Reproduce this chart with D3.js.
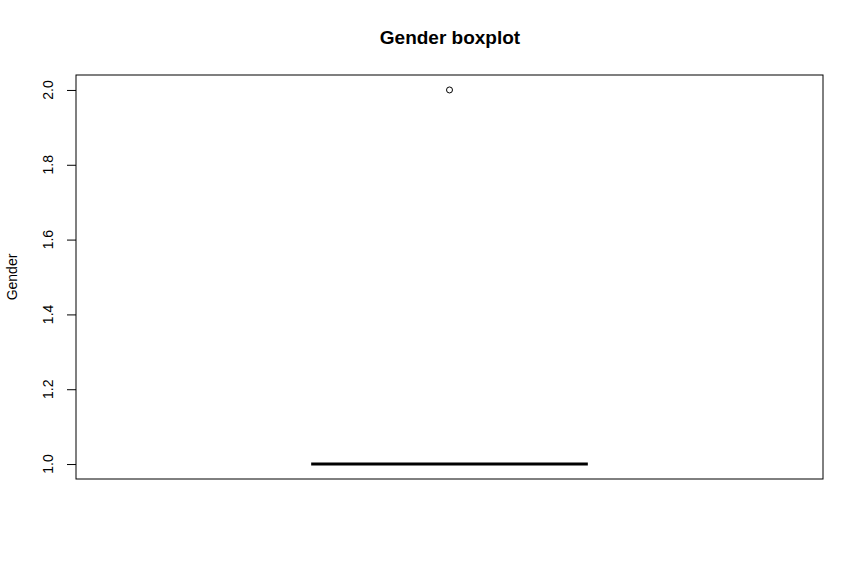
<!DOCTYPE html>
<html><head><meta charset="utf-8">
<script src="https://cdn.jsdelivr.net/npm/d3@7"></script>
<style>body{margin:0;background:#fff}svg{display:block}text{font-family:"Liberation Sans",Arial,sans-serif}</style>
</head><body>
<svg id="c" width="853" height="562"></svg>
<script>
const categories = ["Gender"];
const lowerWhisker = [1.0];
const q1 = [1.0];
const median = [1.0];
const q3 = [1.0];
const upperWhisker = [1.0];
const outliers = [[2.0]];
const yTicks = [1.0, 1.2, 1.4, 1.6, 1.8, 2.0];

const svg = d3.select("#c");
const L = 76, R = 823, T = 75, B = 479;
const x = d3.scaleLinear().domain([0.46, 1.54]).range([L, R]);
const y = d3.scaleLinear().domain([0.96, 2.04]).range([B, T]);

svg.append("text").attr("x", 450).attr("y", 44).attr("text-anchor", "middle")
  .attr("font-size", 19).attr("font-weight", "bold").text("Gender boxplot");

svg.append("rect").attr("x", L).attr("y", T).attr("width", R - L).attr("height", B - T)
  .attr("fill", "none").attr("stroke", "#000").attr("stroke-width", 1);

const ax = svg.append("g").attr("transform", `translate(${L},0)`)
  .call(d3.axisLeft(y).tickValues(yTicks).tickFormat(d3.format(".1f")).tickSize(9).tickPadding(0));
ax.select(".domain").remove();
ax.selectAll(".tick line").attr("stroke", "#000");
ax.selectAll(".tick text").remove();
yTicks.forEach(v => {
  svg.append("text").attr("transform", `translate(53,${y(v)}) rotate(-90)`)
    .attr("text-anchor", "middle").attr("font-size", 14).attr("fill", "#000").text(d3.format(".1f")(v));
});

svg.append("text").attr("transform", `translate(17,${(T + B) / 2}) rotate(-90)`)
  .attr("text-anchor", "middle").attr("font-size", 14).text("Gender");

const bw = 0.4;
categories.forEach((c, i) => {
  const cx = i + 1;
  const g = svg.append("g");
  g.append("rect").attr("x", x(cx - bw / 2)).attr("y", y(q3[i]))
    .attr("width", x(cx + bw / 2) - x(cx - bw / 2)).attr("height", y(q1[i]) - y(q3[i]))
    .attr("fill", "none").attr("stroke", "#000");
  g.append("line").attr("x1", x(cx)).attr("x2", x(cx)).attr("y1", y(q3[i])).attr("y2", y(upperWhisker[i]))
    .attr("stroke", "#000").attr("stroke-dasharray", "4,3");
  g.append("line").attr("x1", x(cx)).attr("x2", x(cx)).attr("y1", y(q1[i])).attr("y2", y(lowerWhisker[i]))
    .attr("stroke", "#000").attr("stroke-dasharray", "4,3");
  g.append("line").attr("x1", x(cx - bw / 2)).attr("x2", x(cx + bw / 2))
    .attr("y1", y(median[i])).attr("y2", y(median[i])).attr("stroke", "#000").attr("stroke-width", 3);
  outliers[i].forEach(o => {
    g.append("circle").attr("cx", x(cx)).attr("cy", y(o)).attr("r", 3)
      .attr("fill", "none").attr("stroke", "#000").attr("stroke-width", 1);
  });
});
</script>
</body></html>
